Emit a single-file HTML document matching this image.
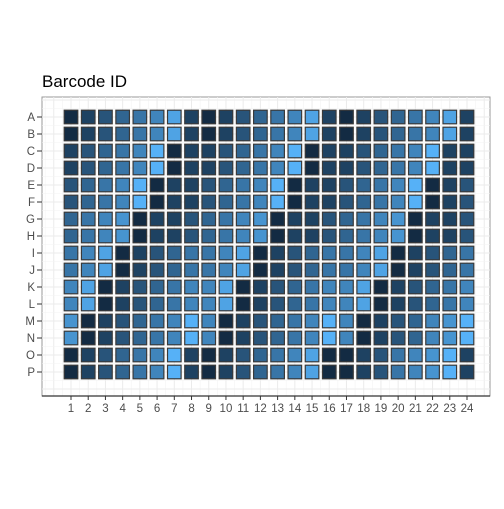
<!DOCTYPE html>
<html><head><meta charset="utf-8"><style>
body{margin:0;background:#fff;font-family:"Liberation Sans",sans-serif}
</style></head><body>
<svg id="chart" width="504" height="504" xmlns="http://www.w3.org/2000/svg" font-family="Liberation Sans, sans-serif">
<rect width="504" height="504" fill="#fff"/>
<text x="42" y="87" font-size="17" fill="#000">Barcode ID</text>
<g id="grid"></g><g id="cells"></g><g id="axes"></g>
</svg>
<script>
const rowLabels = ["A","B","C","D","E","F","G","H","I","J","K","L","M","N","O","P"];
const colLabels = ["1","2","3","4","5","6","7","8","9","10","11","12","13","14","15","16","17","18","19","20","21","22","23","24"];
const rowA = [0,1,2,3,4,5,7,1,0,1,2,3,4,5,7,1,0,1,2,3,4,5,7,1];
const rowB = [0,1,2,3,4,5,7,1,0,1,2,3,4,5,7,1,0,1,2,3,4,5,7,1];
const rowC = [1,2,3,4,5,8,0,1,1,2,3,4,5,8,0,1,1,2,3,4,5,8,1,1];
const rowD = [1,2,3,4,5,8,0,1,1,2,3,4,5,8,0,1,1,2,3,4,5,8,1,1];
const rowE = [2,3,4,5,8,0,1,1,2,3,4,5,8,0,1,1,2,3,4,5,8,0,1,2];
const rowF = [2,3,4,5,8,0,1,1,2,3,4,5,8,0,1,1,2,3,4,5,8,0,1,2];
const rowG = [3,4,5,6,0,1,1,2,3,4,5,6,0,1,1,2,3,4,5,6,0,1,1,2];
const rowH = [3,4,5,6,0,1,1,2,3,4,5,6,0,1,1,2,3,4,5,6,0,1,1,2];
const rowI = [4,5,7,0,1,2,3,4,4,5,7,0,1,2,3,4,4,5,7,0,1,2,3,4];
const rowJ = [4,5,7,0,1,2,3,4,4,5,7,0,1,2,3,4,4,5,7,0,1,2,3,4];
const rowK = [5,7,0,1,2,3,4,5,5,7,0,1,2,3,4,5,5,7,0,1,2,3,4,5];
const rowL = [5,7,0,1,2,3,4,5,5,7,0,1,2,3,4,5,5,7,0,1,2,3,4,5];
const rowM = [6,0,1,2,3,4,5,8,5,0,1,2,3,4,5,8,5,0,1,2,3,5,6,8];
const rowN = [6,0,1,2,3,4,5,8,5,0,1,2,3,4,5,8,5,0,1,2,3,5,6,8];
const rowO = [0,1,2,3,4,5,8,1,0,1,2,3,4,5,7,0,0,1,2,4,5,6,8,1];
const rowP = [0,1,2,3,4,5,8,1,0,1,2,3,4,5,7,0,0,1,2,4,5,6,8,1];
const values = [rowA,rowB,rowC,rowD,rowE,rowF,rowG,rowH,rowI,rowJ,rowK,rowL,rowM,rowN,rowO,rowP];

const NS="http://www.w3.org/2000/svg";
const px0=42, px1=490, py0=97, py1=396;
const xScale = i => 71 + i*(467-71)/23;
const yScale = j => 117 + j*(372-117)/15;
const lo=[0x13,0x2b,0x43], hi=[0x56,0xb1,0xf7];
const color = v => { const t=Math.pow(v/8,0.85); return "rgb("+lo.map((a,k)=>Math.round(a+(hi[k]-a)*t)).join(",")+")"; };
function mk(tag, attrs, parent){const e=document.createElementNS(NS,tag);for(const k in attrs)e.setAttribute(k,attrs[k]);parent.appendChild(e);return e;}
const grid=document.getElementById("grid"), cells=document.getElementById("cells"), axes=document.getElementById("axes");
mk("rect",{x:px0,y:py0,width:px1-px0,height:py1-py0,fill:"#fff",stroke:"#999","stroke-width":1},grid);
const dx=(467-71)/23, dy=(372-117)/15;
for(let i=-2;i<=26;i++){const x=xScale(i); if(x>px0&&x<px1) mk("line",{x1:x,x2:x,y1:py0,y2:py1,stroke:"#ebebeb","stroke-width":1},grid);
 const xm=xScale(i)+dx/2; if(xm>px0&&xm<px1) mk("line",{x1:xm,x2:xm,y1:py0,y2:py1,stroke:"#f4f4f4","stroke-width":0.6},grid);}
for(let j=-2;j<=18;j++){const y=yScale(j); if(y>py0&&y<py1) mk("line",{x1:px0,x2:px1,y1:y,y2:y,stroke:"#ebebeb","stroke-width":1},grid);
 const ym=yScale(j)+dy/2; if(ym>py0&&ym<py1) mk("line",{x1:px0,x2:px1,y1:ym,y2:ym,stroke:"#f4f4f4","stroke-width":0.6},grid);}
values.forEach((row,j)=>row.forEach((v,i)=>{
  const r=mk("rect",{x:xScale(i)-6.8,y:yScale(j)-6.8,width:13.6,height:13.6,fill:color(v),stroke:"#3a3a3a","stroke-width":1.2},cells);
  
  
}));
mk("line",{x1:px0,x2:px1,y1:py1,y2:py1,stroke:"#333","stroke-width":1.2},axes);
rowLabels.forEach((l,j)=>{
  mk("line",{x1:37,x2:42,y1:yScale(j),y2:yScale(j),stroke:"#333","stroke-width":1},axes);
  const t=mk("text",{x:35,y:yScale(j)+4,"text-anchor":"end","font-size":11.5,fill:"#4d4d4d"},axes);
  t.textContent=l;
  
  
});
colLabels.forEach((l,i)=>{
  mk("line",{x1:xScale(i),x2:xScale(i),y1:py1,y2:py1+4,stroke:"#333","stroke-width":1},axes);
  const t=mk("text",{x:xScale(i),y:412,"text-anchor":"middle","font-size":11.5,fill:"#4d4d4d"},axes);
  t.textContent=l;
  
  
});
</script>
</body></html>
